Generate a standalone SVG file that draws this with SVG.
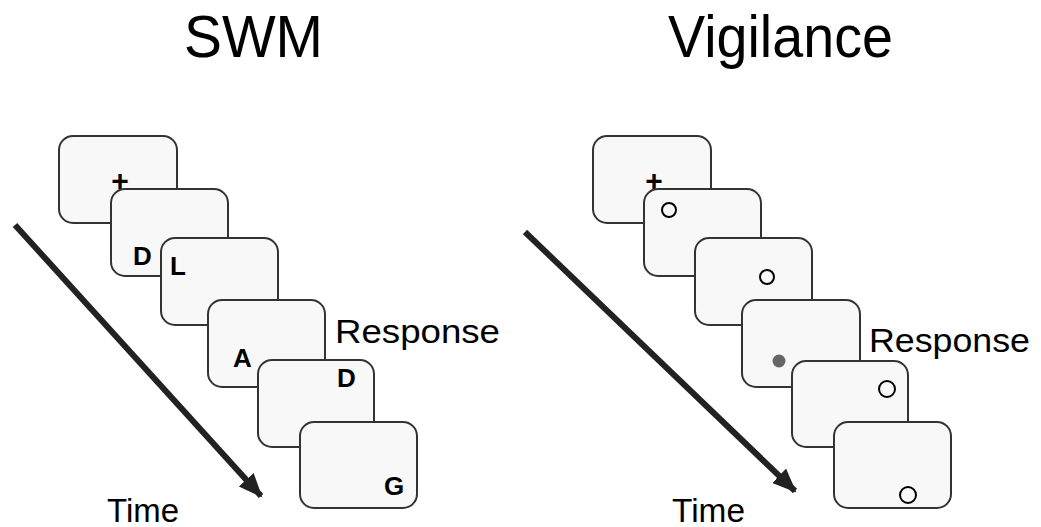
<svg xmlns="http://www.w3.org/2000/svg" width="1041" height="527" viewBox="0 0 1041 527">
<style>
.card{fill:#f8f8f8;stroke:#333;stroke-width:2}
.t{font-family:"Liberation Sans",Arial,sans-serif;fill:#000}
.b{font-family:"Liberation Sans",Arial,sans-serif;font-weight:bold;font-size:26px;fill:#000}
.plus{font-family:"Liberation Sans",Arial,sans-serif;font-weight:bold;font-size:30px;fill:#000;text-anchor:middle}
.ring{fill:none;stroke:#000;stroke-width:2}
.arrow{stroke:#222;stroke-width:6;fill:none}
</style>
<defs>
<marker id="ah" markerUnits="userSpaceOnUse" markerWidth="26" markerHeight="22" refX="22" refY="10" orient="auto">
<path d="M0,0 L24,10 L0,20 Z" fill="#222"/>
</marker>
</defs>
<rect width="1041" height="527" fill="#fff"/>
<text class="t" x="184" y="57" font-size="60" textLength="139" lengthAdjust="spacingAndGlyphs">SWM</text>
<text class="t" x="668" y="57" font-size="60" textLength="225" lengthAdjust="spacingAndGlyphs">Vigilance</text>
<g id="connectors">
<line class="arrow" x1="15" y1="225" x2="261" y2="496" marker-end="url(#ah)"/>
<line class="arrow" x1="525" y1="232" x2="795" y2="491" marker-end="url(#ah)"/>
</g>
<g id="swm-card1"><rect class="card" x="59" y="136" width="118" height="87" rx="14"/><text class="plus" x="120" y="191">+</text></g>
<g id="swm-card2"><rect class="card" x="111" y="189" width="117" height="87" rx="14"/><text class="b" x="133" y="265">D</text></g>
<g id="swm-card3"><rect class="card" x="161" y="238" width="117" height="87" rx="14"/><text class="b" x="170" y="275">L</text></g>
<g id="swm-card4"><rect class="card" x="208" y="300" width="117" height="87" rx="14"/><text class="b" x="233" y="367">A</text></g>
<g id="swm-card5"><rect class="card" x="258" y="360" width="116" height="87" rx="14"/><text class="b" x="337" y="387">D</text></g>
<g id="swm-card6"><rect class="card" x="300" y="422" width="117" height="86" rx="14"/><text class="b" x="384" y="495">G</text></g>
<text class="t" x="335" y="343" font-size="34" textLength="165" lengthAdjust="spacingAndGlyphs">Response</text>
<text class="t" x="107" y="522" font-size="34" textLength="72" lengthAdjust="spacingAndGlyphs">Time</text>
<g id="vig-card1"><rect class="card" x="593" y="136" width="118" height="87" rx="14"/><text class="plus" x="654" y="191">+</text></g>
<g id="vig-card2"><rect class="card" x="644" y="189" width="117" height="87" rx="14"/><circle class="ring" cx="669" cy="210" r="7"/></g>
<g id="vig-card3"><rect class="card" x="695" y="238" width="117" height="87" rx="14"/><circle class="ring" cx="767" cy="277" r="7"/></g>
<g id="vig-card4"><rect class="card" x="742" y="300" width="118" height="87" rx="14"/><circle cx="779" cy="361" r="6.5" fill="#666"/></g>
<g id="vig-card5"><rect class="card" x="792" y="361" width="116" height="86" rx="14"/><circle class="ring" cx="887" cy="389" r="8"/></g>
<g id="vig-card6"><rect class="card" x="834" y="422" width="117" height="86" rx="14"/><circle class="ring" cx="908" cy="495" r="8"/></g>
<text class="t" x="869" y="352" font-size="34" textLength="161" lengthAdjust="spacingAndGlyphs">Response</text>
<text class="t" x="672" y="522" font-size="34" textLength="73" lengthAdjust="spacingAndGlyphs">Time</text>
</svg>
